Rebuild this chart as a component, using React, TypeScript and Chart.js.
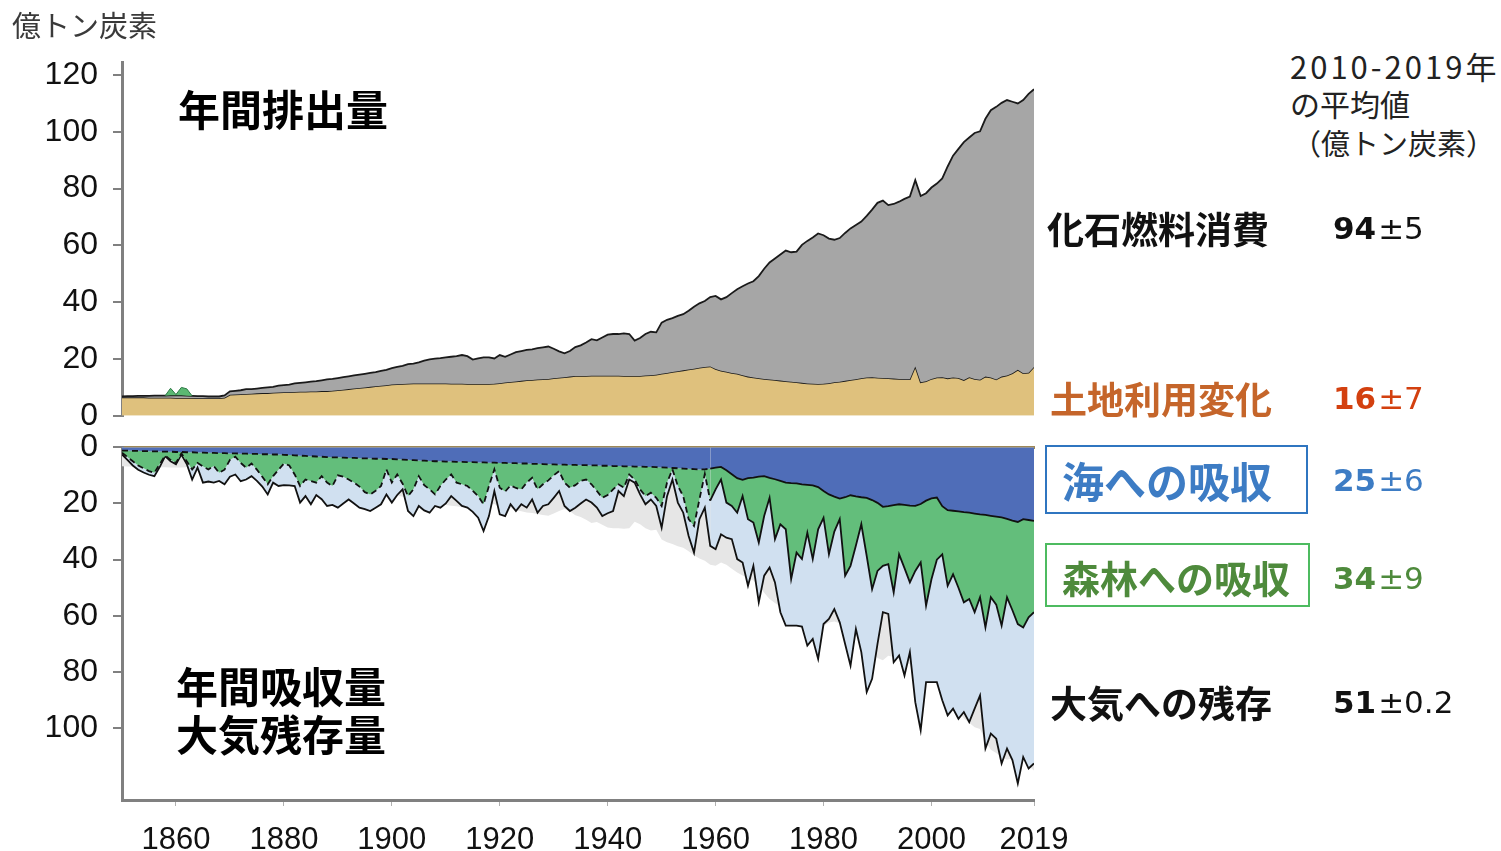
import React, { useEffect, useRef } from "react";
import { Chart, registerables } from "chart.js";

Chart.register(...registerables);

// ---- categories ----
const years: number[] = [];
for (let y = 1850; y <= 2019; y++) years.push(y);

// ---- tick labels ----
const xTickYears = [1860, 1880, 1900, 1920, 1940, 1960, 1980, 2000, 2019];
const topYTicks = [0, 20, 40, 60, 80, 100, 120];
const bottomYTicks = [0, 20, 40, 60, 80, 100];

// ---- top panel: annual emissions (億トン炭素) ----
// land-use change emissions (tan)
const landUseEmission = [
  6.5, 6.5, 6.5, 6.5, 6.5, 6.4, 6.4, 6.4, 6.4, 6.4,
  6.3, 6.3, 6.3, 6.3, 6.2, 6.2, 6.2, 6.2, 6.2, 6.4,
  7.4, 7.5, 7.6, 7.7, 7.8, 7.9, 8.0, 8.0, 8.1, 8.2,
  8.3, 8.3, 8.4, 8.5, 8.5, 8.6, 8.6, 8.7, 8.7, 8.8,
  9.0, 9.2, 9.4, 9.6, 9.8, 10.0, 10.2, 10.4, 10.6, 10.8,
  11.0, 11.1, 11.2, 11.3, 11.4, 11.4, 11.4, 11.4, 11.4, 11.4,
  11.4, 11.3, 11.3, 11.3, 11.2, 11.2, 11.2, 11.2, 11.2, 11.3,
  11.5, 11.7, 11.9, 12.1, 12.3, 12.5, 12.6, 12.8, 12.9, 13.0,
  13.2, 13.4, 13.6, 13.8, 14.0, 14.0, 14.0, 14.1, 14.1, 14.1,
  14.1, 14.1, 14.1, 14.0, 14.0, 14.0, 14.0, 14.2, 14.3, 14.5,
  14.8, 15.1, 15.4, 15.7, 16.0, 16.3, 16.6, 16.9, 17.2, 17.4,
  16.5, 15.9, 15.5, 15.1, 14.8, 14.3, 13.8, 13.5, 13.2, 13.0,
  12.8, 12.6, 12.4, 12.2, 12.0, 11.8, 11.6, 11.4, 11.3, 11.2,
  11.3, 11.5, 11.8, 12.0, 12.3, 12.6, 12.9, 13.2, 13.5, 13.6,
  13.4, 13.3, 13.2, 13.1, 13.0, 12.9, 12.9, 17.4, 11.8, 12.2,
  13.0, 13.5, 13.6, 13.2, 13.5, 13.3, 12.6, 13.6, 13.0, 12.7,
  13.8, 13.5, 12.8, 13.8, 14.2, 15.0, 16.2, 15.0, 15.2, 17.2,
];
// land-use change + fossil fuel emissions (top of grey area)
const totalEmission = [
  6.8, 6.9, 6.9, 7.0, 7.0, 7.0, 7.1, 7.1, 7.1, 7.2,
  7.2, 7.2, 7.1, 7.0, 6.9, 6.9, 6.8, 6.8, 6.8, 7.2,
  8.6, 8.8, 9.0, 9.4, 9.4, 9.6, 9.8, 10.0, 10.2, 10.6,
  10.8, 11.0, 11.4, 11.6, 11.8, 12.0, 12.2, 12.5, 12.8, 13.0,
  13.3, 13.6, 13.9, 14.2, 14.5, 14.8, 15.1, 15.4, 15.8, 16.2,
  16.8, 17.2, 17.6, 18.2, 18.4, 18.8, 19.4, 19.9, 20.1, 20.3,
  20.6, 20.8, 21.0, 21.4, 21.0, 19.8, 20.2, 20.6, 20.6, 20.2,
  21.4, 20.8, 21.6, 22.4, 22.8, 23.2, 23.4, 23.8, 24.1, 24.4,
  23.6, 22.7, 22.0, 22.8, 24.2, 24.8, 25.8, 27.0, 26.6, 27.6,
  28.6, 28.8, 28.8, 29.0, 28.8, 26.5, 27.4, 28.8, 29.6, 29.4,
  32.8, 33.8, 34.4, 35.2, 35.8, 37.0, 38.4, 39.6, 40.4, 41.8,
  42.2, 41.0, 41.8, 43.2, 44.6, 45.6, 46.6, 47.4, 49.2, 51.8,
  54.0, 55.4, 56.8, 58.2, 57.6, 57.8, 60.2, 61.6, 62.8, 64.2,
  63.6, 62.4, 62.0, 62.6, 64.4, 66.0, 67.2, 68.4, 70.4, 72.6,
  75.0, 75.8, 74.2, 74.6, 75.4, 76.4, 77.2, 83.0, 77.4, 78.4,
  80.4, 81.8, 83.6, 87.8, 91.6, 94.0, 96.4, 98.0, 99.6, 100.2,
  104.6, 107.6, 108.8, 110.2, 111.2, 110.6, 110.0, 111.2, 113.4, 115.0,
];
// small green bumps above the total around 1860
const bumpYears = [1858, 1859, 1860, 1861, 1862, 1863];
const bumpHeights = [0, 2.5, 0.3, 2.8, 2.4, 0];

// ---- bottom panel: sinks, cumulative boundaries (億トン炭素, downward) ----
// ocean sink (bottom of the blue band)
const oceanSinkLine = [
  1.2, 1.2, 1.3, 1.3, 1.4, 1.4, 1.5, 1.5, 1.6, 1.6,
  1.7, 1.7, 1.8, 1.8, 1.9, 1.9, 2.0, 2.0, 2.1, 2.1,
  2.2, 2.2, 2.3, 2.3, 2.4, 2.4, 2.5, 2.5, 2.6, 2.6,
  2.7, 2.8, 2.9, 3.0, 3.1, 3.2, 3.3, 3.4, 3.5, 3.6,
  3.6, 3.7, 3.8, 3.8, 3.9, 4.0, 4.0, 4.1, 4.1, 4.2,
  4.2, 4.3, 4.4, 4.5, 4.6, 4.7, 4.8, 4.9, 5.0, 5.0,
  5.1, 5.1, 5.2, 5.2, 5.3, 5.3, 5.4, 5.4, 5.5, 5.5,
  5.6, 5.6, 5.7, 5.7, 5.8, 5.8, 5.9, 5.9, 6.0, 6.1,
  6.1, 6.2, 6.2, 6.3, 6.3, 6.4, 6.4, 6.5, 6.5, 6.6,
  6.6, 6.7, 6.7, 6.8, 6.8, 6.9, 6.9, 7.0, 7.0, 7.1,
  7.2, 7.3, 7.4, 7.5, 7.6, 7.7, 7.8, 7.9, 7.9, 7.6,
  7.3, 7.0, 8.2, 9.6, 11.0, 11.6, 11.0, 10.8, 10.5, 10.3,
  10.9, 11.4, 12.0, 12.6, 12.8, 12.9, 13.2, 13.4, 13.6, 14.2,
  15.6, 16.8, 17.6, 18.3, 17.8, 17.1, 17.5, 17.8, 18.0, 18.8,
  19.8, 21.2, 21.0, 20.6, 20.3, 20.5, 20.8, 20.9, 20.2, 19.0,
  18.2, 17.9, 21.0, 22.4, 22.6, 22.8, 23.1, 23.3, 23.6, 23.9,
  24.1, 24.4, 24.7, 25.0, 25.5, 26.1, 26.6, 25.6, 25.9, 26.2,
];
// ocean + forest/land sink (bottom of the green band)
const landSinkLine = [
  2.0, 3.5, 5.0, 6.5, 7.5, 8.5, 9.1, 6.0, 3.0, 4.5,
  5.6, 2.2, 5.0, 7.9, 5.6, 6.8, 7.9, 6.7, 9.1, 8.0,
  4.5, 3.4, 5.6, 7.3, 5.8, 8.0, 10.5, 13.2, 10.3, 8.0,
  5.8, 6.5, 9.7, 13.8, 11.5, 12.0, 12.6, 10.3, 12.6, 13.8,
  10.0, 10.5, 11.5, 12.6, 14.0, 16.0, 16.8, 15.5, 13.8, 7.9,
  12.6, 9.7, 13.0, 17.4, 15.0, 10.3, 13.5, 15.0, 16.8, 13.8,
  11.5, 9.7, 12.6, 13.2, 13.8, 15.5, 17.4, 20.3, 13.8, 7.9,
  14.4, 15.8, 13.6, 14.5, 15.0, 12.6, 10.9, 15.0, 13.2, 11.8,
  10.0, 8.5, 12.6, 14.4, 13.5, 12.0, 11.5, 13.2, 15.6, 18.0,
  17.0, 15.0, 13.2, 14.4, 9.7, 11.5, 15.0, 17.4, 16.2, 18.0,
  20.9, 12.6, 7.9, 13.8, 17.4, 25.6, 28.0, 18.6, 9.5, 19.0,
  15.0, 11.5, 19.7, 20.9, 23.3, 17.4, 25.6, 26.8, 33.9, 24.5,
  18.0, 32.7, 27.4, 29.2, 46.9, 37.5, 39.8, 30.4, 39.8, 29.2,
  25.1, 38.1, 30.0, 25.6, 45.7, 42.2, 35.0, 27.4, 38.7, 50.5,
  44.0, 42.2, 41.6, 51.7, 38.1, 43.0, 48.1, 44.0, 41.0, 56.4,
  47.0, 40.0, 38.1, 49.3, 45.2, 50.0, 55.2, 54.0, 58.7, 53.4,
  64.1, 53.4, 56.0, 63.5, 53.4, 58.0, 62.9, 64.1, 60.5, 58.7,
];
// ocean + land + atmosphere (bottom of the light-blue band)
const atmosphereLine = [
  2.6, 4.5, 6.5, 8.0, 9.0, 9.8, 10.3, 7.0, 3.2, 5.0,
  6.1, 2.6, 6.0, 11.5, 7.3, 12.6, 12.2, 12.6, 12.0, 13.2,
  10.5, 9.7, 12.1, 11.5, 10.3, 12.0, 14.0, 16.8, 12.6, 13.8,
  13.5, 13.6, 13.8, 19.7, 17.4, 20.3, 17.0, 18.5, 20.9, 20.5,
  21.5, 20.0, 18.6, 20.0, 21.5, 22.0, 22.7, 21.5, 20.3, 16.8,
  19.7, 17.0, 15.0, 22.7, 24.5, 20.9, 22.5, 23.3, 20.9, 21.5,
  20.0, 17.4, 19.1, 20.9, 21.5, 23.0, 25.1, 29.8, 24.5, 15.6,
  23.9, 24.5, 20.3, 22.7, 20.3, 21.5, 18.6, 23.3, 20.9, 20.3,
  18.0, 15.6, 20.9, 22.7, 21.5, 20.0, 18.6, 19.7, 21.5, 24.5,
  23.5, 22.7, 15.6, 17.4, 11.5, 12.6, 16.8, 20.3, 18.6, 20.9,
  28.6, 17.4, 11.5, 19.7, 23.3, 31.6, 37.5, 25.6, 21.5, 35.1,
  36.3, 31.0, 32.2, 32.7, 39.8, 41.0, 49.3, 42.2, 55.2, 45.7,
  42.8, 48.1, 58.7, 63.5, 63.5, 63.5, 63.8, 70.6, 68.2, 75.3,
  62.9, 61.1, 57.6, 62.3, 70.0, 77.7, 64.7, 72.9, 87.1, 82.4,
  70.0, 58.7, 59.3, 76.5, 74.1, 81.2, 72.9, 90.7, 100.7, 83.6,
  83.6, 83.6, 90.0, 95.4, 93.0, 96.6, 94.2, 97.8, 93.0, 88.3,
  107.2, 101.9, 103.7, 112.5, 107.2, 111.3, 119.6, 110.2, 114.3, 112.5,
];
const dashedUntilYear = 1959;

// ---- right-hand summary (2010-2019 averages) ----
const summaryNames = ["化石燃料消費", "土地利用変化", "海への吸収", "森林への吸収", "大気への残存"];
const summaryMeans = ["94", "16", "25", "34", "51"];
const summaryErrors = ["±5", "±7", "±6", "±9", "±0.2"];

const TICK_FONT = { family: "'Liberation Sans', Arial, sans-serif", size: 32 };
const JP = "'Noto Sans CJK JP', sans-serif";
const AXIS_GRAY = "#808080";

function yAxis(ticks: number[], extra: any) {
  return {
    ...extra,
    afterFit: (s: any) => {
      s.width = 122;
    },
    afterBuildTicks: (s: any) => {
      s.ticks = ticks.map((v) => ({ value: v }));
    },
    border: { display: true, color: AXIS_GRAY, width: 3 },
    grid: { display: true, drawOnChartArea: false, drawTicks: true, tickLength: 9, color: AXIS_GRAY, lineWidth: 2 },
    ticks: { font: TICK_FONT, color: "#111", padding: 15, callback: (v: any) => String(v) },
  };
}

export default function App() {
  const topRef = useRef<HTMLCanvasElement>(null);
  const botRef = useRef<HTMLCanvasElement>(null);

  useEffect(() => {
    const bumpData = years.map((y, i) => {
      const k = bumpYears.indexOf(y);
      return k >= 0 ? totalEmission[i] + bumpHeights[k] : null;
    });

    const top = new Chart(topRef.current!, {
      type: "line",
      data: {
        labels: years,
        datasets: [
          {
            label: "土地利用変化",
            data: landUseEmission,
            fill: "origin",
            backgroundColor: "#dfc17d",
            borderColor: "#1a1a1a",
            borderWidth: 1.6,
            pointRadius: 0,
            order: 3,
          },
          {
            label: "化石燃料消費",
            data: totalEmission,
            fill: 0,
            backgroundColor: "#a6a6a6",
            borderColor: "#1a1a1a",
            borderWidth: 1.8,
            pointRadius: 0,
            order: 2,
          },
          {
            label: "bump",
            data: bumpData as any,
            fill: 1,
            spanGaps: false,
            backgroundColor: "#5bb872",
            borderColor: "#2d7a45",
            borderWidth: 1,
            pointRadius: 0,
            order: 1,
          },
        ],
      },
      options: {
        animation: false,
        responsive: false,
        layout: { padding: { left: 0, right: 46, top: 62, bottom: 25 } },
        plugins: { legend: { display: false }, tooltip: { enabled: false } },
        scales: {
          x: { type: "linear", min: 1850, max: 2019, display: false },
          y: yAxis(topYTicks, { min: 0, max: 124.6 }),
        },
      } as any,
    });

    const dashSeg = {
      borderDash: (c: any) => (c.p0.parsed.x < dashedUntilYear ? [6, 4] : undefined),
    };

    const bot = new Chart(botRef.current!, {
      type: "line",
      data: {
        labels: years,
        datasets: [
          {
            label: "emissions",
            data: totalEmission,
            fill: "origin",
            backgroundColor: "#e6e6e6",
            borderColor: "rgba(0,0,0,0)",
            borderWidth: 0,
            pointRadius: 0,
            order: 10,
          },
          {
            label: "大気への残存",
            data: atmosphereLine,
            fill: 2,
            backgroundColor: "#d0e0f0",
            borderColor: "#111",
            borderWidth: 1.8,
            pointRadius: 0,
            order: 5,
          },
          {
            label: "森林への吸収",
            data: landSinkLine,
            fill: 3,
            backgroundColor: "#63be7b",
            borderColor: "#111",
            borderWidth: 1.8,
            pointRadius: 0,
            segment: dashSeg,
            order: 4,
          },
          {
            label: "海への吸収",
            data: oceanSinkLine,
            fill: "origin",
            backgroundColor: "#4f6db8",
            borderColor: "#111",
            borderWidth: 1.8,
            pointRadius: 0,
            segment: dashSeg,
            order: 3,
          },
        ],
      },
      options: {
        animation: false,
        responsive: false,
        layout: { padding: { left: 0, right: 66, top: 25, bottom: 0 } },
        plugins: { legend: { display: false }, tooltip: { enabled: false } },
        scales: {
          x: {
            type: "linear",
            min: 1850,
            max: 2019,
            afterFit: (s: any) => {
              s.height = 51;
            },
            afterBuildTicks: (s: any) => {
              s.ticks = xTickYears.map((v) => ({ value: v }));
            },
            border: { display: true, color: AXIS_GRAY, width: 3 },
            grid: { display: true, drawOnChartArea: false, drawTicks: true, tickLength: 6, color: "#b0b0b0", lineWidth: 1 },
            ticks: { font: { ...TICK_FONT, size: 31 }, color: "#111", padding: 16, maxRotation: 0, autoSkip: false, callback: (v: any) => String(v) },
          },
          xTop: {
            type: "linear",
            position: "top",
            min: 1850,
            max: 2019,
            afterFit: (s: any) => {
              s.height = 0;
            },
            border: { display: true, color: "#9e8856", width: 3 },
            grid: { display: false, drawTicks: false },
            ticks: { display: false },
          },
          y: yAxis(bottomYTicks, { min: 0, max: 125.5, reverse: true }),
        },
      } as any,
    });

    return () => {
      top.destroy();
      bot.destroy();
    };
  }, []);

  const txt = (s: string, left: number, cy: number, size: number, style: any = {}) => (
    <div
      style={{
        position: "absolute",
        left,
        top: cy - size * 0.58,
        fontSize: size,
        lineHeight: 1.16 + "",
        fontFamily: JP,
        whiteSpace: "nowrap",
        ...style,
      }}
    >
      {s}
    </div>
  );

  const num = (k: number, cy: number, color: string) => (
    <div
      style={{
        position: "absolute",
        left: 1333,
        top: cy - 19,
        height: 38,
        lineHeight: "38px",
        fontFamily: "'DejaVu Sans', Verdana, sans-serif",
        color,
        whiteSpace: "nowrap",
      }}
    >
      <span style={{ fontWeight: 700, fontSize: 31 }}>{summaryMeans[k]}</span>
      <span style={{ fontSize: 31, marginLeft: 2 }}>{summaryErrors[k]}</span>
    </div>
  );

  const bold = { fontWeight: 700 };

  return (
    <div style={{ position: "absolute", left: 0, top: 0, width: 1501, height: 851, background: "#fff", overflow: "hidden" }}>
      <canvas ref={topRef} width={1080} height={450} style={{ position: "absolute", left: 0, top: 0 }} />
      <canvas ref={botRef} width={1100} height={438} style={{ position: "absolute", left: 0, top: 413 }} />

      {txt("億トン炭素", 12, 25, 29, { color: "#3a3a3a" })}
      {txt("年間排出量", 178, 108, 42, { ...bold, color: "#000" })}
      {txt("年間吸収量", 176, 685, 42, { ...bold, color: "#000" })}
      {txt("大気残存量", 176, 733, 42, { ...bold, color: "#000" })}

      {txt("2010-2019年", 1290, 66, 31, { color: "#222", letterSpacing: 3 })}
      {txt("の平均値", 1290, 103, 30, { color: "#222" })}
      {txt("（億トン炭素）", 1292, 143, 29, { color: "#222" })}

      {txt(summaryNames[0], 1047, 228, 37, { ...bold, color: "#111" })}
      {num(0, 228, "#111")}

      {txt(summaryNames[1], 1050, 398, 37, { ...bold, color: "#c5652a" })}
      {num(1, 398, "#d3400f")}

      <div style={{ position: "absolute", left: 1045, top: 445, width: 259, height: 65, border: "2.5px solid #2f75c0" }} />
      {txt(summaryNames[2], 1062, 480, 42, { ...bold, color: "#3d7cc4" })}
      {num(2, 480, "#3d7cc4")}

      <div style={{ position: "absolute", left: 1045, top: 543, width: 261, height: 60, border: "2.5px solid #4dbb60" }} />
      {txt(summaryNames[3], 1062, 577, 38, { ...bold, color: "#4e8a3c" })}
      {num(3, 578, "#4e8a3c")}

      {txt(summaryNames[4], 1050, 702, 37, { ...bold, color: "#111" })}
      {num(4, 702, "#111")}
    </div>
  );
}
